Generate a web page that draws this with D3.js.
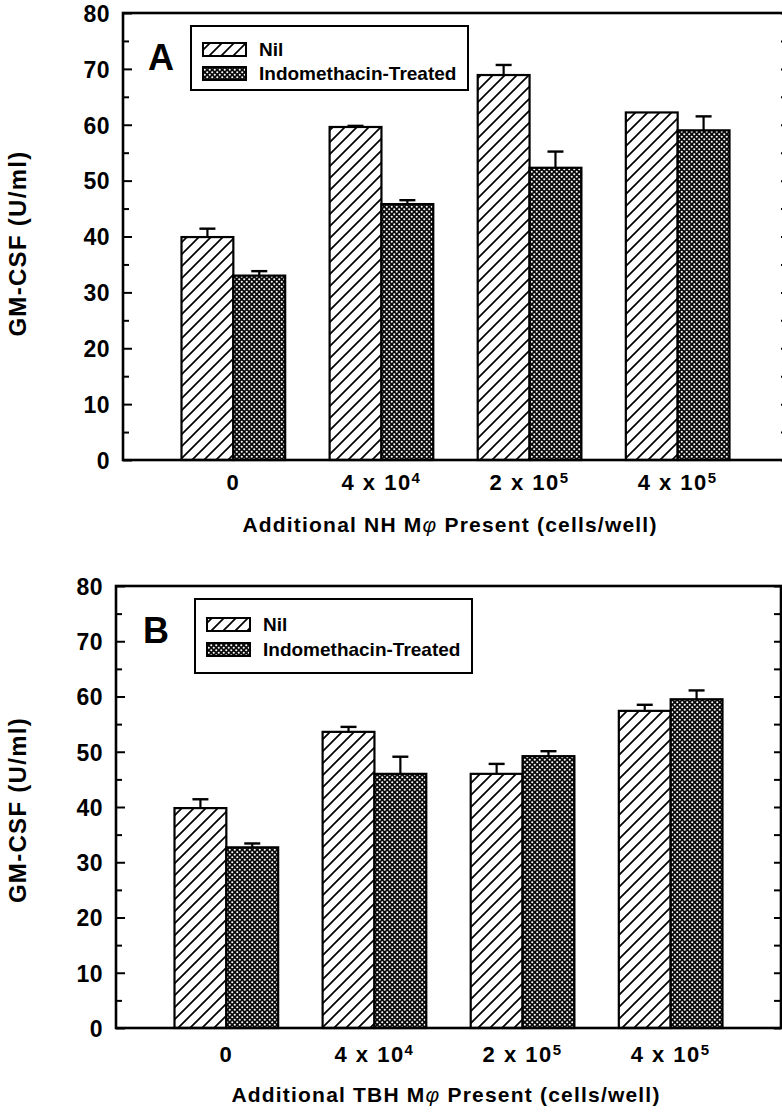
<!DOCTYPE html>
<html>
<head>
<meta charset="utf-8">
<script src="https://cdn.jsdelivr.net/npm/d3@7"></script>
<style type="text/css">
  body{
    margin: 0px;
    background: white;
  }
  svg text{
    font-family: 'Liberation Sans', Arial, sans-serif;
    font-weight: bold;
    fill: black;
  }
</style>
</head>
<body>

<svg id="chart" width="782" height="1114"></svg>

<script>

// x categories (cells/well)
var catBase = ["0", "4 x 10", "2 x 10", "4 x 10"];
var catExp  = ["", "4", "5", "5"];

var seriesNames = ["Nil", "Indomethacin-Treated"];

// panel A - NH macrophages
var nhNil      = [39.9, 59.6, 68.9, 62.2];
var nhNilErr   = [1.5, 0.2, 1.8, 0];
var nhIndo     = [33.0, 45.8, 52.3, 59.0];
var nhIndoErr  = [0.8, 0.7, 2.9, 2.5];

// panel B - TBH macrophages
var tbhNil     = [39.8, 53.6, 46.0, 57.4];
var tbhNilErr  = [1.6, 0.9, 1.8, 1.1];
var tbhIndo    = [32.7, 46.0, 49.2, 59.5];
var tbhIndoErr = [0.7, 3.1, 0.9, 1.6];

var yMajor = [0, 10, 20, 30, 40, 50, 60, 70, 80];
var yMinor = [5, 15, 25, 35, 45, 55, 65, 75];

var svg = d3.select("#chart");

var defs = svg.append("defs");

// diagonal hatch for Nil
var hatch = defs.append("pattern")
  .attr("id", "hatch")
  .attr("patternUnits", "userSpaceOnUse")
  .attr("width", 12)
  .attr("height", 12);
hatch.append("rect").attr("width", 12).attr("height", 12).attr("fill", "white");
hatch.append("path")
  .attr("d", "M0,12 L12,0 M-3,3 L3,-3 M9,15 L15,9")
  .attr("stroke", "black")
  .attr("stroke-width", 1.7);

// dense dots for indomethacin
var dots = defs.append("pattern")
  .attr("id", "dots")
  .attr("patternUnits", "userSpaceOnUse")
  .attr("width", 5)
  .attr("height", 5);
dots.append("rect").attr("width", 5).attr("height", 5).attr("fill", "#0a0a0a");
dots.append("circle").attr("cx", 1.25).attr("cy", 1.25).attr("r", 1.05).attr("fill", "white");
dots.append("circle").attr("cx", 3.75).attr("cy", 3.75).attr("r", 1.05).attr("fill", "white");

var fills = ["url(#hatch)", "url(#dots)"];

function drawPanel(p) {

  var width = 665;
  var height = p.height;

  var g = svg.append("g")
    .attr("transform", "translate(" + p.left + "," + p.top + ")");

  var x0 = d3.scaleBand()
    .domain(d3.range(catBase.length))
    .range([0, width])
    .paddingInner(0.3)
    .paddingOuter(0.395);

  var x1 = d3.scaleBand()
    .domain([0, 1])
    .range([0, x0.bandwidth()]);

  var y = d3.scaleLinear()
    .domain([0, 80])
    .range([height, 0]);

  // bars
  var values = [p.nil, p.indo];
  var errs = [p.nilErr, p.indoErr];

  for (var s = 0; s < 2; s++) {
    var bars = g.selectAll(".bar" + s)
      .data(values[s])
      .enter();

    bars.append("rect")
      .attr("x", function(d, i) { return x0(i) + x1(s); })
      .attr("y", function(d) { return y(d); })
      .attr("width", x1.bandwidth())
      .attr("height", function(d) { return height - y(d); })
      .attr("fill", fills[s])
      .attr("stroke", "black")
      .attr("stroke-width", 2.2);

    // error bars (upward only)
    values[s].forEach(function(d, i) {
      if (errs[s][i] <= 0) return;
      var cx = x0(i) + x1(s) + x1.bandwidth() / 2;
      g.append("line")
        .attr("x1", cx).attr("x2", cx)
        .attr("y1", y(d)).attr("y2", y(d + errs[s][i]))
        .attr("stroke", "black").attr("stroke-width", 2.2);
      g.append("line")
        .attr("x1", cx - 8).attr("x2", cx + 8)
        .attr("y1", y(d + errs[s][i])).attr("y2", y(d + errs[s][i]))
        .attr("stroke", "black").attr("stroke-width", 2.4);
    });
  }

  // frame
  g.append("rect")
    .attr("x", 0).attr("y", 0)
    .attr("width", width).attr("height", height)
    .attr("fill", "none")
    .attr("stroke", "black")
    .attr("stroke-width", 2.6);

  // left axis
  var yAxis = d3.axisLeft(y)
    .tickValues(yMajor)
    .tickSizeInner(-9)
    .tickSizeOuter(0)
    .tickPadding(13)
    .tickFormat(d3.format("d"));

  var ya = g.append("g").call(yAxis);
  ya.select(".domain").remove();
  ya.selectAll("line").attr("stroke-width", 2);
  ya.selectAll("text")
    .style("font-size", "23px")
    .style("letter-spacing", "0.5px")
    .attr("dy", "0.36em");

  var yMin = g.append("g").call(d3.axisLeft(y).tickValues(yMinor).tickSizeInner(-6).tickSizeOuter(0).tickFormat(""));
  yMin.select(".domain").remove();
  yMin.selectAll("line").attr("stroke-width", 2);

  // right axis ticks, pointing inward
  var yr = g.append("g")
    .attr("transform", "translate(" + width + ",0)")
    .call(d3.axisRight(y).tickValues(yMajor.concat(yMinor)).tickSizeInner(-7).tickSizeOuter(0).tickFormat(""));
  yr.select(".domain").remove();
  yr.selectAll("line").attr("stroke-width", 2);

  // x axis labels
  var xa = g.append("g")
    .attr("transform", "translate(0," + height + ")")
    .call(d3.axisBottom(x0).tickSize(0).tickPadding(0).tickFormat(""));
  xa.select(".domain").remove();

  xa.selectAll(".tick").each(function(d, i) {
    var t = d3.select(this).append("text")
      .attr("y", p.labelDy)
      .attr("text-anchor", "middle")
      .style("font-size", "22px")
      .style("letter-spacing", "1.5px");
    t.append("tspan").text(catBase[i]);
    if (catExp[i]) {
      t.append("tspan")
        .attr("dy", "-0.5em")
        .style("font-size", "15px")
        .text(catExp[i]);
    }
  });

  // x title
  var xt = g.append("text")
    .attr("x", p.titleX)
    .attr("y", height + p.titleDy)
    .attr("text-anchor", "middle")
    .style("font-size", "21px")
    .style("letter-spacing", "1.2px");
  xt.append("tspan").text("Additional " + p.cell + " M");
  xt.append("tspan").style("font-style", "italic").style("font-weight", "normal").text("φ");
  xt.append("tspan").text(" Present (cells/well)");

  // y title
  g.append("text")
    .attr("transform", "translate(" + (p.yTitleX - p.left) + "," + (height / 2 + p.yTitleShift) + ") rotate(-90)")
    .attr("text-anchor", "middle")
    .style("font-size", "24px")
    .style("letter-spacing", "1.3px")
    .text("GM-CSF (U/ml)");

  // panel letter
  g.append("text")
    .attr("x", p.letterX)
    .attr("y", 57)
    .style("font-size", "36px")
    .text(p.letter);

  // legend
  var lg = g.append("g")
    .attr("transform", "translate(" + p.legX + ",13)");

  lg.append("rect")
    .attr("width", 277)
    .attr("height", p.legH)
    .attr("fill", "white")
    .attr("stroke", "black")
    .attr("stroke-width", 2);

  seriesNames.forEach(function(name, i) {
    var rowY = p.legRow0 + i * p.legRowStep;
    lg.append("rect")
      .attr("x", 12)
      .attr("y", rowY)
      .attr("width", 43)
      .attr("height", 13)
      .attr("fill", fills[i])
      .attr("stroke", "black")
      .attr("stroke-width", 2);
    lg.append("text")
      .attr("x", 68)
      .attr("y", rowY + 13)
      .style("font-size", "19px")
      .text(name);
  });
}

drawPanel({
  letter: "A", cell: "NH",
  left: 123, top: 13, height: 447,
  nil: nhNil, nilErr: nhNilErr, indo: nhIndo, indoErr: nhIndoErr,
  labelDy: 30, titleX: 327, titleDy: 72,
  yTitleX: 26, yTitleShift: 7,
  letterX: 25, legX: 68, legH: 64, legRow0: 17, legRowStep: 24
});

drawPanel({
  letter: "B", cell: "TBH",
  left: 116, top: 586, height: 442,
  nil: tbhNil, nilErr: tbhNilErr, indo: tbhIndo, indoErr: tbhIndoErr,
  labelDy: 34, titleX: 330, titleDy: 74,
  yTitleX: 26, yTitleShift: 3,
  letterX: 27, legX: 79, legH: 74, legRow0: 19, legRowStep: 25
});

</script>

</body>
</html>
